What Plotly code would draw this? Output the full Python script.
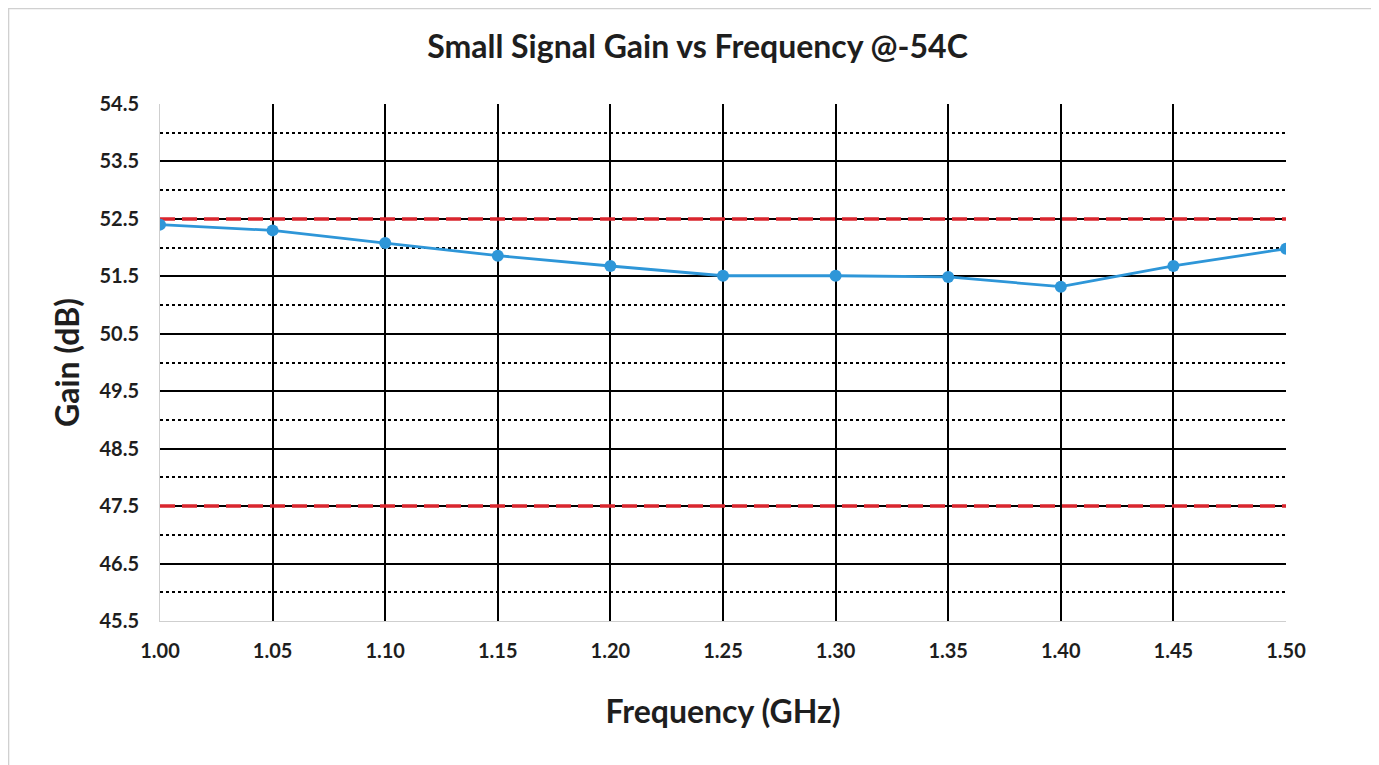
import plotly.graph_objects as go

freq = [1.00, 1.05, 1.10, 1.15, 1.20, 1.25, 1.30, 1.35, 1.40, 1.45, 1.50]
gain = [52.40, 52.30, 52.08, 51.86, 51.68, 51.51, 51.51, 51.49, 51.32, 51.68, 51.98]
upper_limit = [52.5, 52.5]
lower_limit = [47.5, 47.5]
limit_x = [1.00, 1.50]
y_ticks = [45.5, 46.5, 47.5, 48.5, 49.5, 50.5, 51.5, 52.5, 53.5, 54.5]
x_ticks = freq

FONT = "Lato"
red = "#d9262e"
blue = "#2e96d8"
txt = "#1e1e1e"

fig = go.Figure()
fig.add_trace(go.Scatter(x=limit_x, y=upper_limit, mode="lines",
                         line=dict(color=red, width=3.5, dash="15px,7px"),
                         showlegend=False, hoverinfo="skip"))
fig.add_trace(go.Scatter(x=limit_x, y=lower_limit, mode="lines",
                         line=dict(color=red, width=3.5, dash="15px,7px"),
                         showlegend=False, hoverinfo="skip"))
fig.add_trace(go.Scatter(x=freq, y=gain, mode="lines+markers",
                         line=dict(color=blue, width=2.8),
                         marker=dict(color=blue, size=12),
                         showlegend=False))

fig.update_layout(
    width=1379, height=765,
    margin=dict(l=152, r=101, t=96, b=152),
    paper_bgcolor="white", plot_bgcolor="white",
    title=dict(text="<b>Small Signal Gain vs Frequency @-54C</b>",
               x=0.5, xanchor="center", y=0.949, yanchor="middle",
               font=dict(family=FONT, size=32, color=txt)),
    xaxis=dict(range=[1.0, 1.5], tickvals=x_ticks,
               ticktext=[f"{v:.2f}" for v in x_ticks],
               showgrid=True, gridcolor="black", gridwidth=2,
               showline=True, linecolor="#cfcfcf", linewidth=1,
               ticks="", zeroline=False, ticklabelstandoff=12,
               tickfont=dict(family=FONT, size=20, color=txt, weight="bold"),
               title=dict(text="<b>Frequency (GHz)</b>", standoff=39,
                          font=dict(family=FONT, size=32, color=txt))),
    yaxis=dict(range=[45.5, 54.5], tickvals=y_ticks,
               ticktext=[f"{v:.1f}" for v in y_ticks],
               showgrid=True, gridcolor="black", gridwidth=2,
               showline=True, linecolor="#cfcfcf", linewidth=1,
               ticks="", zeroline=False, ticklabelstandoff=16,
               minor=dict(tick0=45.5, dtick=0.5, showgrid=True, gridcolor="black",
                          gridwidth=1.5, griddash="dot"),
               tickfont=dict(family=FONT, size=20, color=txt, weight="bold"),
               title=dict(text="<b>Gain (dB)</b>", standoff=10,
                          font=dict(family=FONT, size=32, color=txt))),
    shapes=[dict(type="rect", xref="paper", yref="paper",
                 x0=-0.1345, x1=1.080, y0=-0.30, y1=1.1847,
                 line=dict(color="#d0d0d0", width=1.5), layer="below")],
)

fig.write_html("out.html")
